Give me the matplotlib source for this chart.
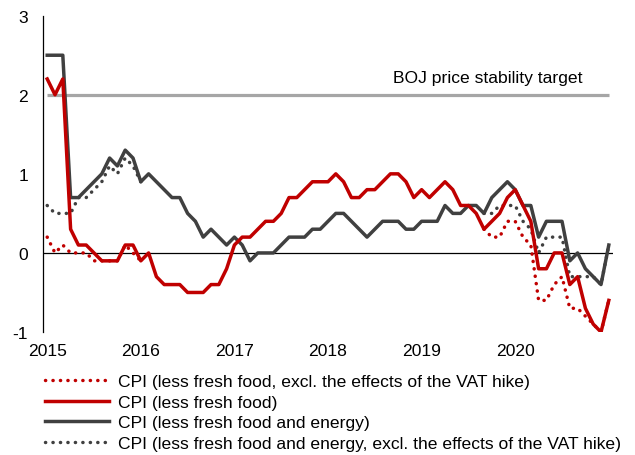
import numpy as np
import matplotlib
matplotlib.use("Agg")
from matplotlib import pyplot as plt

plt.rcParams["font.family"] = ["Liberation Sans", "DejaVu Sans"]
plt.rcParams["font.size"] = 12.6

# monthly y/y % change, Jan 2015 .. Jan 2021
years = ["2015", "2016", "2017", "2018", "2019", "2020"]

core = [2.2, 2.0, 2.2, 0.3, 0.1, 0.1, 0.0, -0.1, -0.1, -0.1, 0.1, 0.1,
        -0.1, 0.0, -0.3, -0.4, -0.4, -0.4, -0.5, -0.5, -0.5, -0.4, -0.4, -0.2,
        0.1, 0.2, 0.2, 0.3, 0.4, 0.4, 0.5, 0.7, 0.7, 0.8, 0.9, 0.9,
        0.9, 1.0, 0.9, 0.7, 0.7, 0.8, 0.8, 0.9, 1.0, 1.0, 0.9, 0.7,
        0.8, 0.7, 0.8, 0.9, 0.8, 0.6, 0.6, 0.5, 0.3, 0.4, 0.5, 0.7,
        0.8, 0.6, 0.4, -0.2, -0.2, 0.0, 0.0, -0.4, -0.3, -0.7, -0.9, -1.0,
        -0.6]

core_core = [2.5, 2.5, 2.5, 0.7, 0.7, 0.8, 0.9, 1.0, 1.2, 1.1, 1.3, 1.2,
             0.9, 1.0, 0.9, 0.8, 0.7, 0.7, 0.5, 0.4, 0.2, 0.3, 0.2, 0.1,
             0.2, 0.1, -0.1, 0.0, 0.0, 0.0, 0.1, 0.2, 0.2, 0.2, 0.3, 0.3,
             0.4, 0.5, 0.5, 0.4, 0.3, 0.2, 0.3, 0.4, 0.4, 0.4, 0.3, 0.3,
             0.4, 0.4, 0.4, 0.6, 0.5, 0.5, 0.6, 0.6, 0.5, 0.7, 0.8, 0.9,
             0.8, 0.6, 0.6, 0.2, 0.4, 0.4, 0.4, -0.1, 0.0, -0.2, -0.3, -0.4,
             0.1]

nan = np.nan
core_ex_vat = [0.2, 0.0, 0.1, 0.0, 0.0, 0.0, -0.1, -0.1, -0.1, -0.1, 0.1, 0.0,
               -0.1] + [nan] * 43 + [
               0.3, 0.2, 0.2, 0.4,
               0.4, 0.2, 0.1, -0.6, -0.6, -0.4, -0.3, -0.7, -0.7, -0.8, -0.9, -1.0,
               -0.6]

core_core_ex_vat = [0.6, 0.5, 0.5, 0.5, 0.7, 0.7, 0.8, 0.9, 1.1, 1.0, 1.2, 1.1,
                    0.9] + [nan] * 43 + [
                    0.5, 0.5, 0.6, 0.6,
                    0.6, 0.4, 0.3, 0.0, 0.2, 0.2, 0.2, -0.3, -0.3, -0.3, -0.3, -0.4,
                    0.1]

target = [2.0] * len(core)

labels = [
    "CPI (less fresh food, excl. the effects of the VAT hike)",
    "CPI (less fresh food)",
    "CPI (less fresh food and energy)",
    "CPI (less fresh food and energy, excl. the effects of the VAT hike)",
]

red = "#c00000"
dark = "#404040"
dots = (0, (0.05, 2.1))

fig = plt.figure(figsize=(6.35, 4.56), dpi=100)
ax = fig.add_axes([0.0682, 0.2697, 0.8967, 0.6937])

x = np.arange(len(core))

ax.plot(x, target, color="#a6a6a6", lw=2.3, solid_capstyle="butt")
ax.axhline(0, color="black", lw=0.9)

(l1,) = ax.plot(x, core_ex_vat, color=red, lw=2.5, linestyle=dots,
                dash_capstyle="round", label=labels[0])
(l4,) = ax.plot(x, core_core_ex_vat, color=dark, lw=2.5, linestyle=dots,
                dash_capstyle="round", label=labels[3])
(l3,) = ax.plot(x, core_core, color=dark, lw=2.5, label=labels[2])
(l2,) = ax.plot(x, core, color=red, lw=2.5, label=labels[1])

ax.text(68.6, 2.22, "BOJ price stability target", ha="right", va="center")

ax.set_xlim(-0.5, len(core) - 0.5)
ax.set_ylim(-1, 3)
ax.set_yticks([-1, 0, 1, 2, 3])
ax.set_yticklabels(["-1", "0", "1", "2", "3"])
ax.set_xticks(np.arange(len(years)) * 12)
ax.set_xticklabels(years)
ax.tick_params(axis="y", length=0, pad=11)
ax.tick_params(axis="x", length=0, pad=8)

for side in ("top", "right", "bottom"):
    ax.spines[side].set_visible(False)
ax.spines["left"].set_linewidth(0.9)

fig.legend(handles=[l1, l2, l3, l4], loc="upper left",
           bbox_to_anchor=(45 / 635, 1 - 375 / 456), frameon=False,
           handlelength=3.65, handletextpad=0.5, labelspacing=0.3,
           borderpad=0, borderaxespad=0)

fig.savefig("out.png", dpi=100)
